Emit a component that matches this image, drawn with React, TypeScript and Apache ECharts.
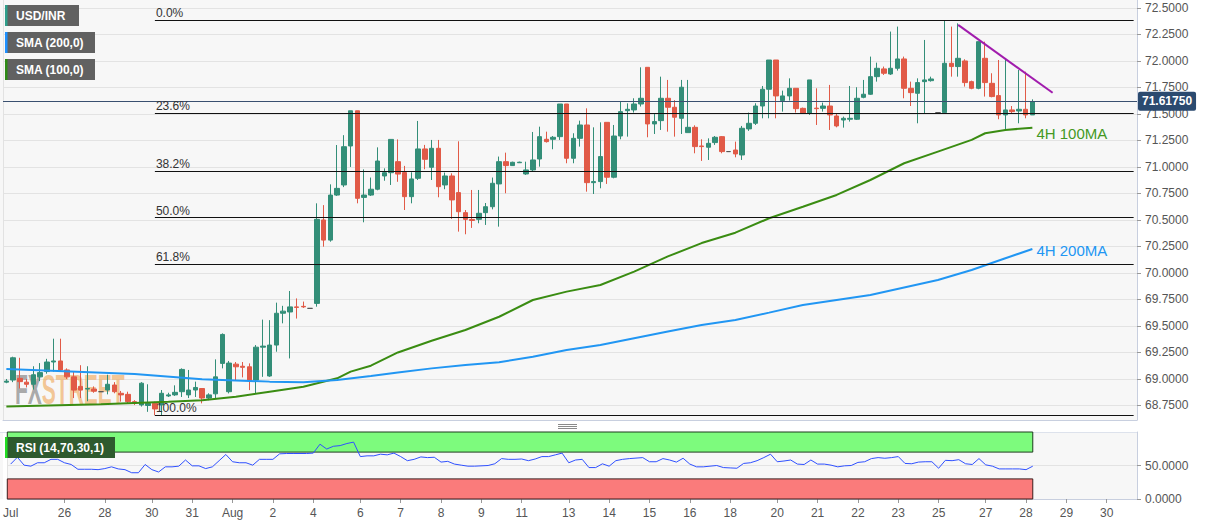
import React, { useEffect, useRef } from 'react';
import * as echarts from 'echarts';

// ---------- categories (one slot per 4H candle, plus empty future slots) ----------
const SLOT_COUNT = 168;
const CATS = Array.from({ length: SLOT_COUNT }, (_, i) => 'c' + i);
const X_LABEL_IDX = [0, 8, 14, 21, 27, 33, 39, 45, 52, 58, 64, 70, 76, 83, 89, 95, 101, 107, 114, 120, 126, 132, 138, 145, 151, 157, 163];
const X_LABEL_TEXT = ['Jul', '26', '28', '30', '31', 'Aug', '2', '4', '6', '7', '8', '9', '11', '13', '14', '15', '16', '18', '20', '21', '22', '23', '25', '27', '28', '29', '30'];
const MONTH_LINE_IDX = 33;

// ---------- USD/INR 4H candles ----------
const OPEN = [
  68.97, 68.99, 69.006, 68.97, 68.95, 69.02, 69.07, 69.16, 69.17, 69.085,
  69.02, 68.93, 68.905, 68.905, 68.88, 68.896, 68.943, 68.865, 68.855, 68.786,
  68.755, 68.75, 68.77, 68.755, 68.84, 68.85, 68.88, 68.85, 68.896, 68.91,
  68.82, 68.86, 69.147, 68.88, 69.14, 69.12, 69.115, 68.99, 69.30, 69.028,
  69.32, 69.62, 69.632, 69.68, 69.685, 69.666, 69.713, 70.50, 70.31, 70.735,
  70.83, 71.198, 71.53, 70.713, 70.735, 70.79, 70.915, 70.946, 71.05, 70.947,
  70.72, 70.893, 71.17, 70.997, 71.176, 70.83, 70.915, 70.758, 70.569, 70.505,
  70.506, 70.569, 70.625, 70.84, 71.05, 71.013, 71.04, 70.934, 70.972, 71.075,
  71.261, 71.261, 71.286, 71.594, 71.082, 71.27, 71.396, 70.852, 70.862, 71.421,
  70.903, 71.292, 71.531, 71.538, 71.594, 71.94, 71.406, 71.437, 71.648, 71.563,
  71.459, 71.324, 71.374, 71.198, 71.186, 71.23, 71.286, 71.145, 71.16, 71.113,
  71.359, 71.412, 71.575, 71.733, 72.009, 71.626, 71.67, 71.742, 71.553, 71.506,
  71.555, 71.553, 71.575, 71.481, 71.443, 71.45, 71.45, 71.657, 71.686, 71.852,
  71.925, 71.877, 71.931, 72.019, 71.742, 71.695, 71.805, 71.814, 71.513, 71.513,
  71.978, 71.947, 72.0, 71.805, 71.742, 72.025, 71.789, 71.673, 71.491, 71.538,
  71.528, 71.544, 71.491,
];
const CLOSE = [
  68.98, 69.20, 68.975, 68.95, 69.04, 69.06, 69.16, 69.17, 69.085, 69.02,
  68.895, 68.895, 68.91, 68.885, 68.88, 68.95, 68.88, 68.85, 68.786, 68.77,
  68.96, 68.77, 68.717, 68.865, 68.85, 68.874, 69.09, 68.896, 68.92, 68.82,
  68.85, 69.02, 69.42, 69.15, 69.115, 69.11, 68.984, 69.30, 69.31, 69.32,
  69.62, 69.64, 69.68, 69.675, 69.68, 69.666, 70.506, 70.31, 70.735, 70.798,
  71.191, 71.53, 70.704, 70.735, 70.79, 71.056, 70.946, 71.26, 70.933, 70.72,
  70.887, 71.17, 71.072, 71.176, 70.814, 70.915, 70.689, 70.578, 70.506, 70.495,
  70.563, 70.625, 70.846, 71.05, 71.013, 71.044, 71.045, 70.972, 71.066, 71.286,
  71.239, 71.28, 71.594, 71.082, 71.27, 71.396, 70.852, 70.862, 71.098, 70.903,
  71.292, 71.522, 71.544, 71.594, 71.648, 71.406, 71.428, 71.648, 71.563, 71.469,
  71.752, 71.374, 71.192, 71.192, 71.223, 71.28, 71.145, 71.145, 71.123, 71.365,
  71.412, 71.575, 71.733, 72.009, 71.67, 71.67, 71.742, 71.55, 71.506, 71.821,
  71.55, 71.575, 71.491, 71.387, 71.459, 71.459, 71.648, 71.686, 71.852, 71.931,
  71.884, 71.931, 72.019, 71.742, 71.701, 71.796, 71.821, 71.83, 71.513, 71.978,
  71.947, 72.025, 71.796, 71.742, 72.182, 71.796, 71.664, 71.491, 71.538, 71.522,
  71.544, 71.491, 71.6175,
];
const LOW = [
  68.96, 68.97, 68.91, 68.92, 68.90, 68.98, 69.05, 69.07, 69.07, 69.00,
  68.82, 68.82, 68.79, 68.87, 68.88, 68.855, 68.865, 68.786, 68.77, 68.755,
  68.74, 68.69, 68.658, 68.66, 68.83, 68.84, 68.83, 68.82, 68.83, 68.77,
  68.80, 68.82, 69.10, 68.864, 68.99, 69.015, 68.895, 68.86, 69.02, 69.02,
  69.257, 69.525, 69.194, 69.57, 69.67, 69.666, 69.682, 70.248, 70.295, 70.726,
  70.81, 71.0, 70.657, 70.478, 70.726, 70.78, 70.87, 70.83, 70.86, 70.594,
  70.657, 70.877, 70.978, 70.877, 70.714, 70.79, 70.51, 70.39, 70.365, 70.425,
  70.469, 70.453, 70.60, 70.437, 70.752, 71.01, 71.04, 70.925, 70.956, 71.003,
  71.23, 71.167, 71.255, 71.035, 71.035, 71.192, 70.767, 70.745, 70.799, 70.84,
  70.893, 71.261, 71.286, 71.513, 71.57, 71.28, 71.311, 71.349, 71.333, 71.286,
  71.311, 71.324, 71.129, 71.057, 71.066, 71.208, 71.129, 71.145, 71.091, 71.066,
  71.34, 71.396, 71.459, 71.459, 71.459, 71.522, 71.626, 71.513, 71.50, 71.491,
  71.396, 71.522, 71.349, 71.374, 71.371, 71.428, 71.443, 71.648, 71.68, 71.805,
  71.868, 71.868, 71.909, 71.648, 71.575, 71.412, 71.506, 71.805, 71.513, 71.506,
  71.852, 71.852, 71.758, 71.733, 71.733, 71.664, 71.657, 71.45, 71.355, 71.506,
  71.412, 71.459, 71.491,
];
const HIGH = [
  69.00, 69.21, 69.20, 69.00, 69.12, 69.15, 69.19, 69.38, 69.38, 69.10,
  69.07, 69.13, 69.12, 68.93, 68.88, 69.04, 68.97, 68.887, 68.88, 68.80,
  68.97, 68.95, 68.786, 68.896, 68.87, 68.94, 69.10, 69.085, 68.975, 68.912,
  68.865, 69.185, 69.43, 69.17, 69.16, 69.16, 69.147, 69.32, 69.56, 69.555,
  69.72, 69.69, 69.83, 69.76, 69.73, 69.666, 70.657, 70.64, 70.836, 71.207,
  71.30, 71.53, 71.53, 70.977, 70.90, 71.185, 70.987, 71.26, 71.26, 71.01,
  70.95, 71.434, 71.208, 71.255, 71.255, 70.947, 70.94, 71.242, 70.594, 70.783,
  70.783, 70.66, 70.90, 71.098, 71.135, 71.05, 71.05, 71.05, 71.33, 71.38,
  71.333, 71.292, 71.594, 71.594, 71.318, 71.437, 71.553, 71.374, 71.421, 71.421,
  71.396, 71.616, 71.60, 71.648, 71.94, 71.94, 71.506, 71.852, 71.821, 71.63,
  71.821, 71.821, 71.393, 71.261, 71.27, 71.292, 71.292, 71.145, 71.239, 71.387,
  71.513, 71.601, 71.764, 72.009, 72.009, 71.72, 71.836, 71.742, 71.56, 71.821,
  71.742, 71.607, 71.774, 71.506, 71.475, 71.764, 71.752, 71.821, 72.041, 71.984,
  71.947, 72.277, 72.324, 72.041, 71.805, 71.836, 72.198, 71.852, 71.513, 72.384,
  72.324, 72.355, 72.016, 71.814, 72.182, 72.182, 71.884, 72.009, 72.025, 71.575,
  71.915, 71.899, 71.638,
];

// ---------- price axis ----------
const PRICE_MIN = 68.613;
const PRICE_MAX = 72.575;
const PRICE_TICKS = [68.75, 69, 69.25, 69.5, 69.75, 70, 70.25, 70.5, 70.75, 71, 71.25, 71.5, 71.75, 72, 72.25, 72.5];
const LAST_PRICE = 71.6175;

// ---------- Fibonacci retracement ----------
const FIB_HIGH = 72.384;
const FIB_LOW = 68.658;
const FIB_RATIOS = [0, 0.236, 0.382, 0.5, 0.618, 1];
const FIB_LABELS = ['0.0%', '23.6%', '38.2%', '50.0%', '61.8%', '100.0%'];
const FIB_START_IDX = 22;

// ---------- falling trendline ----------
const TREND_IDX = [141, 155];
const TREND_VAL = [72.34, 71.70];

// ---------- moving averages (read at knots) ----------
const SMA100_IDX = [0, 14, 24, 29, 34, 39, 44, 49, 51, 54, 58, 63, 68, 73, 78, 83, 88, 93, 98, 103, 108, 113, 118, 123, 128, 133, 138, 143, 145, 148, 152];
const SMA100_VAL = [68.74, 68.761, 68.786, 68.80, 68.833, 68.88, 68.927, 69.006, 69.069, 69.125, 69.25, 69.36, 69.462, 69.587, 69.745, 69.824, 69.887, 70.013, 70.156, 70.282, 70.38, 70.516, 70.625, 70.736, 70.877, 71.035, 71.145, 71.255, 71.318, 71.349, 71.371];
const SMA200_IDX = [0, 19, 29, 39, 44, 49, 54, 58, 63, 68, 73, 78, 83, 88, 93, 98, 103, 108, 113, 118, 128, 138, 143, 148, 152];
const SMA200_VAL = [69.093, 69.047, 68.997, 68.975, 68.969, 68.99, 69.028, 69.06, 69.10, 69.132, 69.157, 69.21, 69.274, 69.321, 69.384, 69.447, 69.509, 69.557, 69.626, 69.698, 69.792, 69.934, 70.028, 70.139, 70.226];

// ---------- RSI(14) ----------
const RSI = [
  52.1, 62.3, 50.5, 49.0, 54.1, 54.1, 59.2, 59.2, 54.1, 51.5,
  44.4, 44.4, 44.4, 43.8, 45.4, 48.0, 44.9, 43.8, 39.2, 39.2,
  51.5, 43.8, 40.3, 48.0, 48.0, 49.0, 58.2, 49.5, 49.5, 45.4,
  48.0, 57.2, 66.4, 55.6, 54.1, 54.1, 50.5, 59.2, 59.2, 59.2,
  67.4, 67.9, 67.9, null, 67.9, 68.5, 81.8, 74.6, 78.7, 79.7,
  82.8, 84.9, 63.3, 64.4, 64.4, 66.9, 65.9, 68.5, 63.3, 57.2,
  59.2, 62.8, 61.8, 62.3, 55.1, 56.2, 52.1, 50.5, 49.0, 49.0,
  null, 50.0, 52.6, 60.3, 59.2, 59.2, 59.7, 57.2, 59.7, 63.3,
  63.3, 65.9, 68.5, 54.1, 58.2, 59.2, 46.9, 46.9, 52.5, 49.0,
  57.2, 59.2, 60.3, null, 61.8, 55.6, 55.6, 60.3, 58.2, 55.1,
  60.8, 52.1, 48.0, 48.0, 49.0, 50.0, 46.9, 46.4, 45.9, 53.1,
  54.1, 57.2, 61.8, 66.9, 55.6, 56.7, 58.2, 52.1, 51.5, 58.2,
  52.1, 52.1, 50.5, 48.0, 49.5, 50.0, 54.6, 55.6, 60.3, 61.8,
  60.8, 61.8, 63.3, 53.1, 52.6, 55.1, 55.6, 55.6, 45.9, 57.7,
  57.2, 58.7, 52.6, 51.5, 60.3, 51.0, 49.0, 44.9, 44.9, 44.9,
  44.9, 43.8, 49.0,
];
const RSI_TICKS = [0, 50];
const RSI_OVERBOUGHT = 70;
const RSI_OVERSOLD = 30;

const FONT = 'Liberation Sans, Arial, sans-serif';

function sparse(idx: number[], val: number[], len: number) {
  const a: (number | null)[] = new Array(len).fill(null);
  idx.forEach((k, j) => { a[k] = val[j]; });
  return a;
}

export default function App() {
  const ref = useRef<HTMLDivElement>(null);

  useEffect(() => {
    document.body.style.margin = '0';
    const chart = echarts.init(ref.current!, undefined, { renderer: 'svg' });

    const labelMap: Record<number, string> = {};
    X_LABEL_IDX.forEach((k, j) => { labelMap[k] = X_LABEL_TEXT[j]; });
    const lastIdx = OPEN.length - 1;
    const candles = OPEN.map((o, i) => [o, CLOSE[i], LOW[i], HIGH[i]]);
    const fibLines = FIB_RATIOS.map((r, k) => {
      const level = FIB_HIGH - r * (FIB_HIGH - FIB_LOW);
      return [
        {
          coord: [FIB_START_IDX, level],
          lineStyle: { color: '#111', width: 1, type: 'solid' },
          label: {
            show: true, position: 'insideStartTop', formatter: FIB_LABELS[k],
            color: '#333', fontSize: 12, fontFamily: FONT, distance: 1,
          },
        },
        { coord: [SLOT_COUNT - 1, level] },
      ];
    });

    const legendBox = (y: number, w: number, text: string, bar: string, bg: string) => ({
      type: 'group', x: 5, y, z: 200, zlevel: 0,
      children: [
        { type: 'rect', z: 200, shape: { x: 0, y: 0, width: w, height: 21 }, style: { fill: bg } },
        { type: 'rect', z: 201, shape: { x: 0, y: 0, width: 2.5, height: 21 }, style: { fill: bar } },
        {
          type: 'text', z: 202, x: 11, y: 11,
          style: {
            text, fill: '#fff', font: 'bold 12px ' + FONT,
            verticalAlign: 'middle', textVerticalAlign: 'middle',
          },
        },
      ],
    });

    const option: any = {
      animation: false,
      textStyle: { fontFamily: FONT },
      grid: [
        { left: 3, top: 0, width: 1134, height: 420, show: true, backgroundColor: '#f7f7f7', borderWidth: 0 },
        { left: 3, top: 432, width: 1134, height: 67, show: true, backgroundColor: '#f7f7f7', borderWidth: 0 },
      ],
      xAxis: [
        {
          type: 'category', gridIndex: 0, data: CATS, boundaryGap: true,
          axisLine: { show: true, lineStyle: { color: '#c8cfdf' } },
          axisTick: { show: false }, axisLabel: { show: false },
          splitLine: { show: true, interval: (i: number) => i === MONTH_LINE_IDX, lineStyle: { color: '#e2e2e2' } },
        },
        {
          type: 'category', gridIndex: 1, data: CATS, boundaryGap: true,
          axisLine: { show: true, lineStyle: { color: '#c8cfdf' } },
          axisTick: {
            show: true, alignWithLabel: true, length: 4,
            interval: (i: number) => labelMap[i] !== undefined && i !== 0,
            lineStyle: { color: '#999' },
          },
          axisLabel: {
            interval: (i: number) => labelMap[i] !== undefined,
            formatter: (_v: string, i: number) => labelMap[i] ?? '',
            color: '#555', fontSize: 12, margin: 8, fontFamily: FONT,
          },
          splitLine: { show: true, interval: (i: number) => i === MONTH_LINE_IDX, lineStyle: { color: '#e2e2e2' } },
        },
      ],
      yAxis: [
        {
          type: 'value', gridIndex: 0, position: 'right', min: PRICE_MIN, max: PRICE_MAX, scale: true,
          axisLine: { show: true, lineStyle: { color: '#c8cfdf' } },
          axisTick: { show: true, length: 4, customValues: PRICE_TICKS, lineStyle: { color: '#999' } },
          axisLabel: {
            customValues: PRICE_TICKS, formatter: (v: number) => v.toFixed(4),
            color: '#555', fontSize: 12, margin: 8, fontFamily: FONT,
          },
          splitLine: { show: true, lineStyle: { color: '#e3e3e3' } },
        },
        {
          type: 'value', gridIndex: 1, position: 'right', min: 0, max: 100,
          axisLine: { show: true, lineStyle: { color: '#c8cfdf' } },
          axisTick: { show: true, length: 4, customValues: RSI_TICKS, lineStyle: { color: '#999' } },
          axisLabel: {
            customValues: RSI_TICKS, formatter: (v: number) => v.toFixed(4),
            color: '#555', fontSize: 12, margin: 8, fontFamily: FONT,
          },
          splitLine: { show: true, lineStyle: { color: '#e3e3e3' } },
        },
      ],
      series: [
        {
          type: 'candlestick', name: 'USD/INR', xAxisIndex: 0, yAxisIndex: 0,
          data: candles, barWidth: 5,
          itemStyle: {
            color: '#338e78', color0: '#e15a47',
            borderColor: '#338e78', borderColor0: '#e15a47', borderColorDoji: '#555',
            borderWidth: 1,
          },
          markLine: {
            silent: true, symbol: ['none', 'none'], animation: false,
            data: [
              ...fibLines,
              [
                { coord: [TREND_IDX[0], TREND_VAL[0]], lineStyle: { color: '#a11cad', width: 2, type: 'solid' }, label: { show: false } },
                { coord: [TREND_IDX[1], TREND_VAL[1]] },
              ],
              {
                yAxis: LAST_PRICE,
                lineStyle: { color: '#3a5070', width: 1, type: 'solid' },
                label: {
                  show: true, position: 'end', distance: 1,
                  formatter: LAST_PRICE.toFixed(5),
                  backgroundColor: '#2b4a6f', color: '#fff', fontWeight: 'bold',
                  fontSize: 12, fontFamily: FONT, padding: [4, 4, 3, 4], borderRadius: 2,
                },
              },
            ],
          },
        },
        {
          type: 'line', name: 'SMA (100,0)', xAxisIndex: 0, yAxisIndex: 0,
          data: sparse(SMA100_IDX, SMA100_VAL, OPEN.length), connectNulls: true,
          symbol: 'none', showSymbol: false, smooth: false, z: 4,
          lineStyle: { color: '#3a8c12', width: 2 },
          endLabel: {
            show: true, formatter: '4H 100MA', color: '#44991f', fontSize: 15,
            fontFamily: FONT, distance: 4, offset: [0, 6],
          },
        },
        {
          type: 'line', name: 'SMA (200,0)', xAxisIndex: 0, yAxisIndex: 0,
          data: sparse(SMA200_IDX, SMA200_VAL, OPEN.length), connectNulls: true,
          symbol: 'none', showSymbol: false, smooth: false, z: 4,
          lineStyle: { color: '#2196f3', width: 2 },
          endLabel: {
            show: true, formatter: '4H 200MA', color: '#2196f3', fontSize: 15,
            fontFamily: FONT, distance: 4, offset: [0, 1],
          },
        },
        {
          type: 'line', name: 'RSI', xAxisIndex: 1, yAxisIndex: 1,
          data: RSI, connectNulls: true, symbol: 'none', showSymbol: false, z: 5,
          lineStyle: { color: '#2f50ff', width: 1 },
          markArea: {
            silent: true,
            z: 1,
            data: [
              [
                { yAxis: 100, itemStyle: { color: '#7dfb7d', borderColor: '#1d3d1d', borderWidth: 1 } },
                { xAxis: lastIdx, yAxis: RSI_OVERBOUGHT },
              ],
              [
                { yAxis: RSI_OVERSOLD, itemStyle: { color: '#fa7b7b', borderColor: '#3d1d1d', borderWidth: 1 } },
                { xAxis: lastIdx, yAxis: 0 },
              ],
            ],
          },
        },
      ],
      graphic: [
        { type: 'rect', z: -100, shape: { x: 0, y: 0, width: 3, height: 420 }, style: { fill: '#f7f7f7' } },
        { type: 'rect', z: -100, shape: { x: 0, y: 432, width: 3, height: 67 }, style: { fill: '#f7f7f7' } },
        { type: 'line', z: 1, shape: { x1: 0, y1: 432.5, x2: 1137, y2: 432.5 }, style: { stroke: '#dde2ec', lineWidth: 1 } },
        { type: 'line', z: 1, shape: { x1: 558, y1: 424.5, x2: 577, y2: 424.5 }, style: { stroke: '#8a8a8a', lineWidth: 1 } },
        { type: 'line', z: 1, shape: { x1: 558, y1: 426.5, x2: 577, y2: 426.5 }, style: { stroke: '#8a8a8a', lineWidth: 1 } },
        { type: 'line', z: 1, shape: { x1: 558, y1: 428.5, x2: 577, y2: 428.5 }, style: { stroke: '#8a8a8a', lineWidth: 1 } },
        {
          type: 'text', x: 15, y: 389, scaleX: 0.5, z: 1,
          style: {
            text: '{a|FX}{b|STREET}',
            verticalAlign: 'middle', textVerticalAlign: 'middle',
            opacity: 0.65,
            rich: {
              a: { fill: '#7c7c7c', fontSize: 42, fontWeight: 'bold', fontFamily: FONT },
              b: { fill: '#f0a95c', fontSize: 42, fontWeight: 'bold', fontFamily: FONT },
            },
          },
        },
        legendBox(5, 74, 'USD/INR', '#2e9e8a', '#616161'),
        legendBox(32, 90, 'SMA (200,0)', '#1e90ff', '#616161'),
        legendBox(59, 90, 'SMA (100,0)', '#2e8b16', '#616161'),
        legendBox(437, 110, 'RSI (14,70,30,1)', '#22dd22', '#2e5a2e'),
      ],
    };

    chart.setOption(option);
    return () => chart.dispose();
  }, []);

  return (
    <div
      ref={ref}
      style={{ position: 'fixed', left: 0, top: 0, width: 1207, height: 526, background: '#fff' }}
    />
  );
}
